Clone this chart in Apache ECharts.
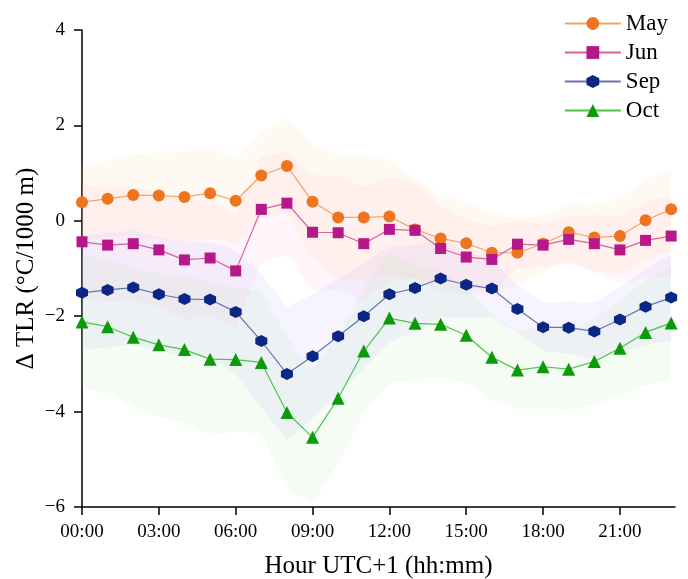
<!DOCTYPE html>
<html>
<head>
<meta charset="utf-8">
<script src="https://cdn.jsdelivr.net/npm/echarts@6/dist/echarts.min.js"></script>
<style>
  html, body { margin: 0; padding: 0; background: #fff; }
  #chart { width: 688px; height: 579px; }
</style>
</head>
<body>
<div id="chart"></div>
<script>
"use strict";
// hours 0..23 (UTC+1)
var hours = [0,1,2,3,4,5,6,7,8,9,10,11,12,13,14,15,16,17,18,19,20,21,22,23];
var tickHours = [0,3,6,9,12,15,18,21];

// mean delta TLR per month
var mayVals = [0.39,0.46,0.54,0.53,0.50,0.58,0.42,0.95,1.15,0.40,0.07,0.07,0.09,-0.18,-0.37,-0.47,-0.67,-0.67,-0.48,-0.24,-0.35,-0.32,0.01,0.24];
var junVals = [-0.44,-0.51,-0.48,-0.61,-0.82,-0.78,-1.05,0.24,0.37,-0.24,-0.25,-0.48,-0.18,-0.20,-0.58,-0.76,-0.81,-0.49,-0.51,-0.39,-0.48,-0.61,-0.41,-0.32];
var sepVals = [-1.51,-1.45,-1.40,-1.54,-1.64,-1.65,-1.91,-2.52,-3.21,-2.84,-2.42,-2.00,-1.54,-1.41,-1.21,-1.34,-1.42,-1.85,-2.23,-2.24,-2.32,-2.07,-1.80,-1.61];
var octVals = [-2.12,-2.22,-2.44,-2.60,-2.70,-2.90,-2.91,-2.97,-4.02,-4.54,-3.72,-2.73,-2.04,-2.15,-2.17,-2.40,-2.86,-3.13,-3.06,-3.11,-2.95,-2.67,-2.34,-2.14];

// spread (shaded band half-width)
var maySd = [0.75,0.8,0.85,0.9,0.95,0.95,0.9,0.9,1.0,1.2,1.3,1.3,1.2,1.05,0.9,0.85,0.85,0.7,0.6,0.6,0.7,0.8,0.85,0.85];
var junSd = [1.2,1.2,1.2,1.2,1.25,1.2,1.2,1.1,1.1,1.2,1.2,1.2,1.1,1.0,0.9,0.8,0.7,0.5,0.45,0.5,0.6,0.7,0.8,0.85];
var sepSd = [1.2,1.2,1.2,1.2,1.2,1.2,1.3,1.4,1.4,1.3,1.2,1.1,1.0,0.9,0.8,0.7,0.6,0.5,0.5,0.55,0.6,0.7,0.8,0.9];
var octSd = [1.4,1.4,1.45,1.5,1.55,1.6,1.5,1.5,1.6,1.4,1.35,1.3,1.35,1.2,1.1,1.0,0.9,0.8,0.85,0.85,0.9,1.0,1.1,1.2];

var hexPath = 'path://M50,0 L93,25 L93,75 L50,100 L7,75 L7,25 Z';
var serif = '"Liberation Serif", "Times New Roman", serif';

var months = [
  {name: 'May', vals: mayVals, sd: maySd, color: '#ee7420', line: '#f5a263', symbol: 'circle', size: 12, band: '#ffd98a'},
  {name: 'Jun', vals: junVals, sd: junSd, color: '#b6188a', line: '#d8609f', symbol: 'rect', size: 11, band: '#ffb0d8'},
  {name: 'Sep', vals: sepVals, sd: sepSd, color: '#0c2686', line: '#6a72b4', symbol: hexPath, size: 12, band: '#b9a8ff'},
  {name: 'Oct', vals: octVals, sd: octSd, color: '#0a9a0a', line: '#4cc44c', symbol: 'triangle', size: 13, band: '#a6e8a0'}
];

// shaded band: polygon through mean+sd then back along mean-sd
function bandSeries(m){
  return {
    name: m.name + '_band', type: 'custom', silent: true, z: 1,
    data: hours.map(function(h, i){ return [h, m.vals[i]]; }),
    renderItem: function(params, api){
      if (params.dataIndex !== 0) return null;
      var pts = [];
      for (var i = 0; i < hours.length; i++) pts.push(api.coord([hours[i], m.vals[i] + m.sd[i]]));
      for (var j = hours.length - 1; j >= 0; j--) pts.push(api.coord([hours[j], m.vals[j] - m.sd[j]]));
      return {type: 'polygon', shape: {points: pts}, style: {fill: m.band, opacity: 0.12}};
    }
  };
}

var series = [];
months.forEach(function(m){ series.push(bandSeries(m)); });
months.forEach(function(m){
  series.push({
    name: m.name, type: 'line', z: 5,
    data: hours.map(function(h, i){ return [h, m.vals[i]]; }),
    symbol: m.symbol, symbolSize: m.size,
    itemStyle: {color: m.color},
    lineStyle: {color: m.line, width: 1.2}
  });
});

var chart = echarts.init(document.getElementById('chart'));
chart.setOption({
  backgroundColor: '#fff',
  animation: false,
  grid: {left: 82, right: 13, top: 30, bottom: 72, outerBoundsMode: 'none', containLabel: false},
  legend: {
    data: ['May', 'Jun', 'Sep', 'Oct'],
    orient: 'vertical', right: 15, top: 7,
    itemWidth: 56, itemHeight: 16, itemGap: 6,
    textStyle: {fontFamily: serif, fontSize: 23, color: '#000'}
  },
  xAxis: {
    type: 'value', min: 0, max: 23.15,
    name: 'Hour UTC+1 (hh:mm)', nameLocation: 'middle', nameGap: 47, nameMoveOverlap: false,
    nameTextStyle: {fontFamily: serif, fontSize: 25, color: '#000'},
    axisLine: {onZero: false, lineStyle: {color: '#000', width: 1.5}},
    axisTick: {show: true, length: 8, customValues: tickHours, lineStyle: {color: '#000', width: 1.5}},
    axisLabel: {
      customValues: tickHours, margin: 16,
      fontFamily: serif, fontSize: 19, color: '#000',
      formatter: function(v){ return (v < 10 ? '0' : '') + v + ':00'; }
    },
    splitLine: {show: false}
  },
  yAxis: {
    type: 'value', min: -6, max: 4, interval: 2,
    name: 'Δ TLR (°C/1000 m)', nameLocation: 'middle', nameGap: 43, nameMoveOverlap: false,
    nameTextStyle: {fontFamily: serif, fontSize: 25, color: '#000'},
    axisLine: {show: true, onZero: false, lineStyle: {color: '#000', width: 1.5}},
    axisTick: {show: true, length: 8, lineStyle: {color: '#000', width: 1.5}},
    axisLabel: {
      margin: 17, fontFamily: serif, fontSize: 19, color: '#000',
      formatter: function(v){ return v < 0 ? '\u2212' + Math.abs(v) : String(v); }
    },
    splitLine: {show: false}
  },
  series: series
});
</script>
</body>
</html>
